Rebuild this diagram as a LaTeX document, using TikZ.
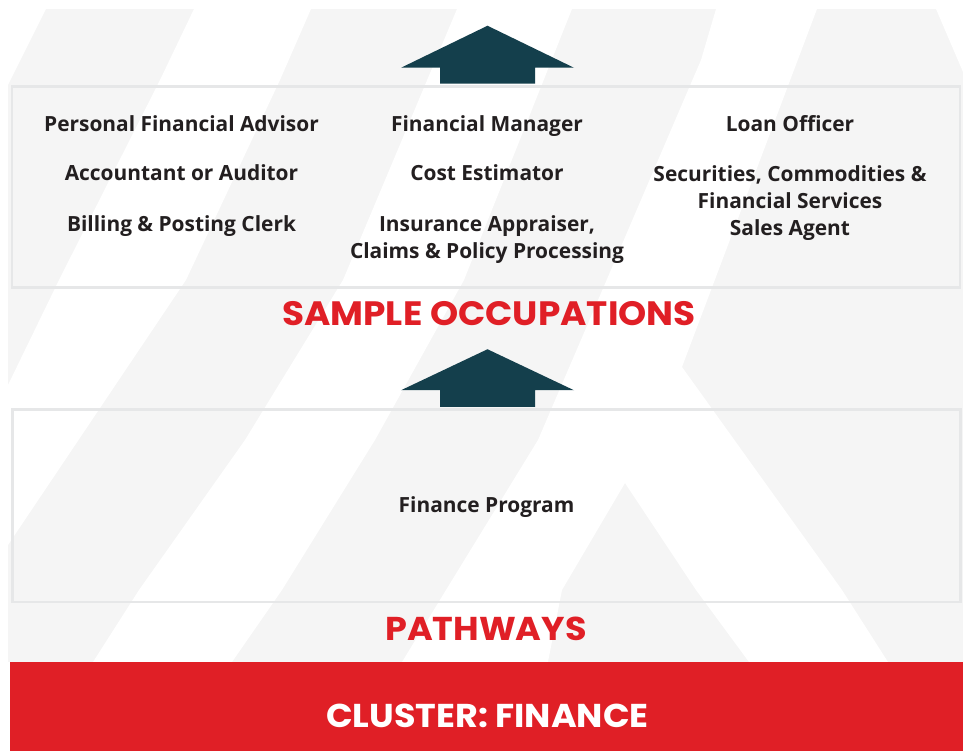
\documentclass[tikz,border=0pt]{standalone}
\usepackage{fontspec}
\setmainfont{Open Sans}
\newfontfamily\headfont{Poppins}[FakeStretch=1.06]
\usetikzlibrary{calc}
\definecolor{bggray}{HTML}{F5F5F5}
\definecolor{boxline}{HTML}{E6E7E8}
\definecolor{arrowteal}{HTML}{143F4C}
\definecolor{cred}{HTML}{E01F26}
\definecolor{txt}{HTML}{231F20}
\begin{document}
\begin{tikzpicture}[x=1pt,y=-1pt,
  bodytxt/.style={font=\fontsize{20.9}{27}\selectfont\bfseries, text=txt, inner sep=0pt, align=center},
  headtxt/.style={font=\headfont\fontsize{33}{36}\selectfont\bfseries, inner sep=0pt},
  panel/.style={draw=boxline, line width=2.5pt, inner sep=0pt},
  band/.style={fill=white},
  blockarrow/.style={fill=arrowteal}]
\useasboundingbox (0,0) rectangle (967,751);
\fill[white] (0,0) rectangle (967,751);
% background pattern
\fill[bggray] (8,9) rectangle (963,662);
\fill[band] (8,9) -- (46,9) -- (8,85) -- cycle;
\fill[band] (194,9) -- (311,9) -- (280,80) -- (186,280) -- (8,545) -- (8,385) -- (59,280) -- (160,80) -- cycle;
\fill[band] (457,9) -- (572,9) -- (464,280) -- (375,440) -- (282,590) -- (232,662) -- (93,662) -- (139,590) -- (245,440) -- (343,280) -- cycle;
\fill[band] (716,9) -- (817,9) -- (682,367) -- (842,590) -- (888,662) -- (749,662) -- (696,590) -- (625,483) -- (562,590) -- (548,662) -- (402,662) -- (446,590) -- (538,440) -- (701,60) -- cycle;
\fill[band] (936,9) -- (963,9) -- (963,72) -- cycle;
% panels
\node[panel, minimum width=948pt, minimum height=201pt] (occ) at (486,187) {};
\node[panel, minimum width=948pt, minimum height=192.5pt] (pw) at (486.5,505.75) {};
% arrows
\coordinate (a1) at ($(occ.north)+(1.5,-1.5)$);
\coordinate (a2) at ($(pw.north)+(1,-1.5)$);
\fill[blockarrow] ($(a1)+(-47.5,0)$) -- ($(a1)+(-47.5,-16)$) -- ($(a1)+(-86.5,-16)$) -- ($(a1)+(0,-58)$) -- ($(a1)+(86.5,-16)$) -- ($(a1)+(47.5,-16)$) -- ($(a1)+(47.5,0)$) -- cycle;
\fill[blockarrow] ($(a2)+(-47.5,0)$) -- ($(a2)+(-47.5,-16.5)$) -- ($(a2)+(-86.5,-16.5)$) -- ($(a2)+(0,-57.5)$) -- ($(a2)+(86.5,-16.5)$) -- ($(a2)+(47.5,-16.5)$) -- ($(a2)+(47.5,0)$) -- cycle;
% occupations
\node[bodytxt, anchor=base] (pfa) at (181.5,131.5) {Personal Financial Advisor};
\node[bodytxt, anchor=base] (aoa) at (181.5,181) {Accountant or Auditor};
\node[bodytxt, anchor=base] (bpc) at (181.5,231.5) {Billing \& Posting Clerk};
\node[bodytxt, anchor=base] (fm) at (487,131.5) {Financial Manager};
\node[bodytxt, anchor=base] (ce) at (487,181) {Cost Estimator};
\node[bodytxt, anchor=north] (iap) at (487,215.6) {\vphantom{l}Insurance Appraiser,\\Claims \& Policy Processing};
\node[bodytxt, anchor=base] (lo) at (790,131.5) {Loan Officer};
\node[bodytxt, anchor=north] (scf) at (790,165.1) {\vphantom{l}Securities, Commodities \&\\Financial Services\\Sales Agent};
\node[bodytxt, anchor=base] (fp) at (486.5,512.5) {Finance Program};
% headings
\node[headtxt, font=\headfont\fontsize{33.8}{36}\selectfont\bfseries, text=cred, anchor=base] (so) at (489,325.5) {SAMPLE OCCUPATIONS};
\node[headtxt, text=cred, anchor=base] (pwt) at (486,640) {PATHWAYS};
\node[fill=cred, minimum width=953pt, minimum height=89pt, inner sep=0pt] (bar) at (486.5,706.5) {};
\node[headtxt, text=white, anchor=base] (cl) at (487.5,727) {CLUSTER: FINANCE};
\end{tikzpicture}
\end{document}
